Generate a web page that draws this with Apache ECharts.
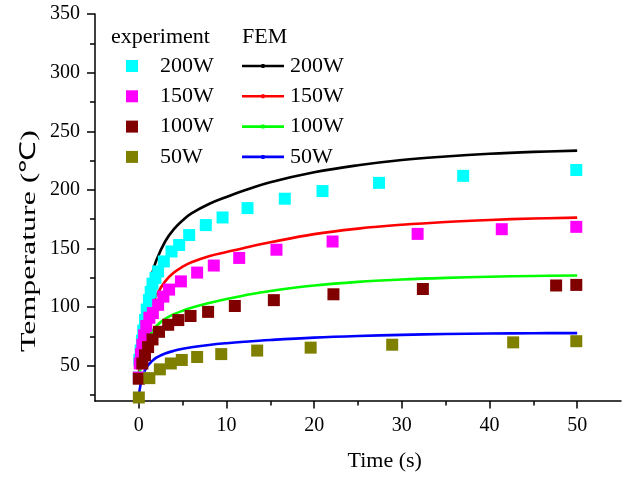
<!DOCTYPE html>
<html>
<head>
<meta charset="utf-8">
<script src="https://cdn.jsdelivr.net/npm/echarts@6/dist/echarts.min.js"></script>
<style>
html,body{margin:0;padding:0;background:#fff;}
#chart{width:630px;height:477px;}
</style>
</head>
<body>
<div id="chart"></div>
<script>
// ---- data ----
const xTickValues = [0, 10, 20, 30, 40, 50];
const xMinorTicks = [5, 15, 25, 35, 45];
const yTickValues = [50, 100, 150, 200, 250, 300, 350];
const yMinorTicks = [25, 75, 125, 175, 225, 275, 325];
const powers = ['200W', '150W', '100W', '50W'];

// FEM simulation curves
const timeFEM = [0,0.25,0.5,1,1.5,2,3,4,5,6,8,10,12,15,20,25,30,35,40,45,50];
const fem200 = [40,70,90,112,128,140,156,166.5,174,180,188,194,199.5,206.5,215,221,225.5,228.5,230.8,232.4,233.5];
const fem150 = [40,60,74,90,101,110,122,129.5,134.5,138.3,143.5,147,150.5,155.3,162.3,167,170.3,172.7,174.4,175.6,176.4];
const fem100 = [35,52,62,72,79,84,90,94,97,99.5,103.5,107,110,113.8,118.5,121.6,123.6,125,126,126.6,127];
const fem50  = [25,36,43,50,54,57,60.5,62.8,64.5,65.8,67.8,69.3,70.5,72,74,75.4,76.4,77.1,77.5,77.8,77.9];

// experiment measurements
const t200 = [0,0.05,0.2,0.35,0.5,0.7,0.9,1.15,1.35,1.56,1.9,2.2,2.85,3.73,4.6,5.74,7.64,9.55,12.4,16.65,20.95,27.4,37,49.9];
const e200 = [40,55,63,71.5,80,89,98,106,113,120,125,130.5,139,147.5,153,161.5,170,176.5,184.5,192.5,199,206,212,217];
const t150 = [0,0.1,0.25,0.4,0.6,0.85,1.2,1.6,2.2,2.8,3.45,4.8,6.65,8.55,11.45,15.7,22.1,31.8,41.4,49.9];
const e150 = [40,52,60,68,76,84,91,95,102,109,115,122,129.5,135.5,142,149,156,162.5,166.5,168.5];
const t100 = [0,0.4,0.7,1.06,1.56,2.3,3.35,4.5,5.9,7.9,10.95,15.4,22.2,32.4,47.6,49.9];
const e100 = [39,52,59,66,72.5,79,85,89,92.5,96,101,106,111,115.5,118.5,119];
const t50  = [0,1.2,2.4,3.65,4.9,6.65,9.4,13.5,19.6,28.9,42.7,49.9];
const e50  = [23,39.5,47,52,55,57.5,60,63,65.5,68,70,71];

// ---- build ----
const FONT = '"Liberation Serif", "Times New Roman", serif';
const pair = (xs, ys) => xs.map((x, i) => [x, ys[i]]);
const expColors = ['#00FFFF', '#FF00FF', '#800000', '#808000'];
const femColors = ['#000000', '#FF0000', '#00FF00', '#0000FF'];
const expT = [t200, t150, t100, t50];
const expV = [e200, e150, e100, e50];
const femV = [fem200, fem150, fem100, fem50];
const LINE_ICON = 'path://M0,0.7L42,0.7L42,3.3L0,3.3Z M19.5,0L22.5,0L22.5,4L19.5,4Z';

const series = [];
powers.forEach((p, i) => {
  series.push({
    name: 'fem' + p, type: 'line', xAxisIndex: 0, yAxisIndex: 0,
    data: pair(timeFEM, femV[i]), smooth: 0.4,
    symbol: 'none', showSymbol: false,
    lineStyle: { color: femColors[i], width: 2.6 }, itemStyle: { color: femColors[i] },
    z: 2, silent: true
  });
});
powers.forEach((p, i) => {
  series.push({
    name: 'exp' + p, type: 'scatter', xAxisIndex: 0, yAxisIndex: 0,
    data: pair(expT[i], expV[i]), symbol: 'rect', symbolSize: 12,
    itemStyle: { color: expColors[i], opacity: 1 }, z: 3 + i, silent: true
  });
});

const option = {
  animation: false,
  backgroundColor: '#fff',
  grid: { left: 95, right: 9, top: 14, bottom: 76 },
  xAxis: [
    {
      type: 'value', min: -5, max: 55, position: 'bottom',
      axisLine: { show: true, onZero: false, lineStyle: { color: '#000', width: 1.5 } },
      splitLine: { show: false },
      axisTick: { show: true, length: 7.5, customValues: xTickValues, lineStyle: { color: '#000', width: 1.5 } },
      axisLabel: { customValues: xTickValues, color: '#000', fontFamily: FONT, fontSize: 20, margin: 15 }
    },
    {
      type: 'value', min: -5, max: 55, position: 'bottom',
      axisLine: { show: false, onZero: false }, splitLine: { show: false }, axisLabel: { show: false },
      axisTick: { show: true, length: 4.5, customValues: xMinorTicks, lineStyle: { color: '#000', width: 1.5 } }
    }
  ],
  yAxis: [
    {
      type: 'value', min: 20, max: 350, position: 'left',
      axisLine: { show: true, onZero: false, lineStyle: { color: '#000', width: 1.5 } },
      splitLine: { show: false },
      axisTick: { show: true, length: 8, customValues: yTickValues, lineStyle: { color: '#000', width: 1.5 } },
      axisLabel: { customValues: yTickValues, color: '#000', fontFamily: FONT, fontSize: 20, margin: 15 }
    },
    {
      type: 'value', min: 20, max: 350, position: 'left', offset: 0,
      axisLine: { show: false, onZero: false }, splitLine: { show: false }, axisLabel: { show: false },
      axisTick: { show: true, length: 5, customValues: yMinorTicks, lineStyle: { color: '#000', width: 1.5 } }
    }
  ],
  legend: [
    {
      data: powers.map(p => 'exp' + p), orient: 'vertical', left: 126, top: 55, padding: 0,
      itemWidth: 12, itemHeight: 12, itemGap: 8.3, selectedMode: false,
      formatter: n => n.replace('exp', ''),
      textStyle: { fontFamily: FONT, fontSize: 22, color: '#000', lineHeight: 22, padding: [0, 0, 0, 17] }
    },
    {
      data: powers.map(p => ({ name: 'fem' + p, icon: LINE_ICON })), orient: 'vertical', left: 242, top: 55, padding: 0,
      itemWidth: 42, itemHeight: 12, itemGap: 8.3, selectedMode: false,
      formatter: n => n.replace('fem', ''),
      textStyle: { fontFamily: FONT, fontSize: 22, color: '#000', lineHeight: 22, padding: [0, 0, 0, 1] }
    }
  ],
  graphic: [
    { type: 'text', left: 111, top: 26, silent: true,
      style: { text: 'experiment', fill: '#000', font: '22px ' + FONT } },
    { type: 'text', left: 242, top: 26, silent: true,
      style: { text: 'FEM', fill: '#000', font: '22px ' + FONT } },
    { type: 'text', x: 384.7, y: 461, silent: true,
      style: { text: 'Time (s)', fill: '#000', font: '22px ' + FONT, textAlign: 'center', verticalAlign: 'middle' } },
    { type: 'text', x: 29, y: 241, rotation: Math.PI / 2, scaleX: 1.45, silent: true,
      style: { text: 'Temperature (℃)', fill: '#000', font: '22px ' + FONT, textAlign: 'center', verticalAlign: 'middle' } }
  ],
  series: series
};

const chart = echarts.init(document.getElementById('chart'), null, { renderer: 'canvas' });
chart.setOption(option);
</script>
</body>
</html>
